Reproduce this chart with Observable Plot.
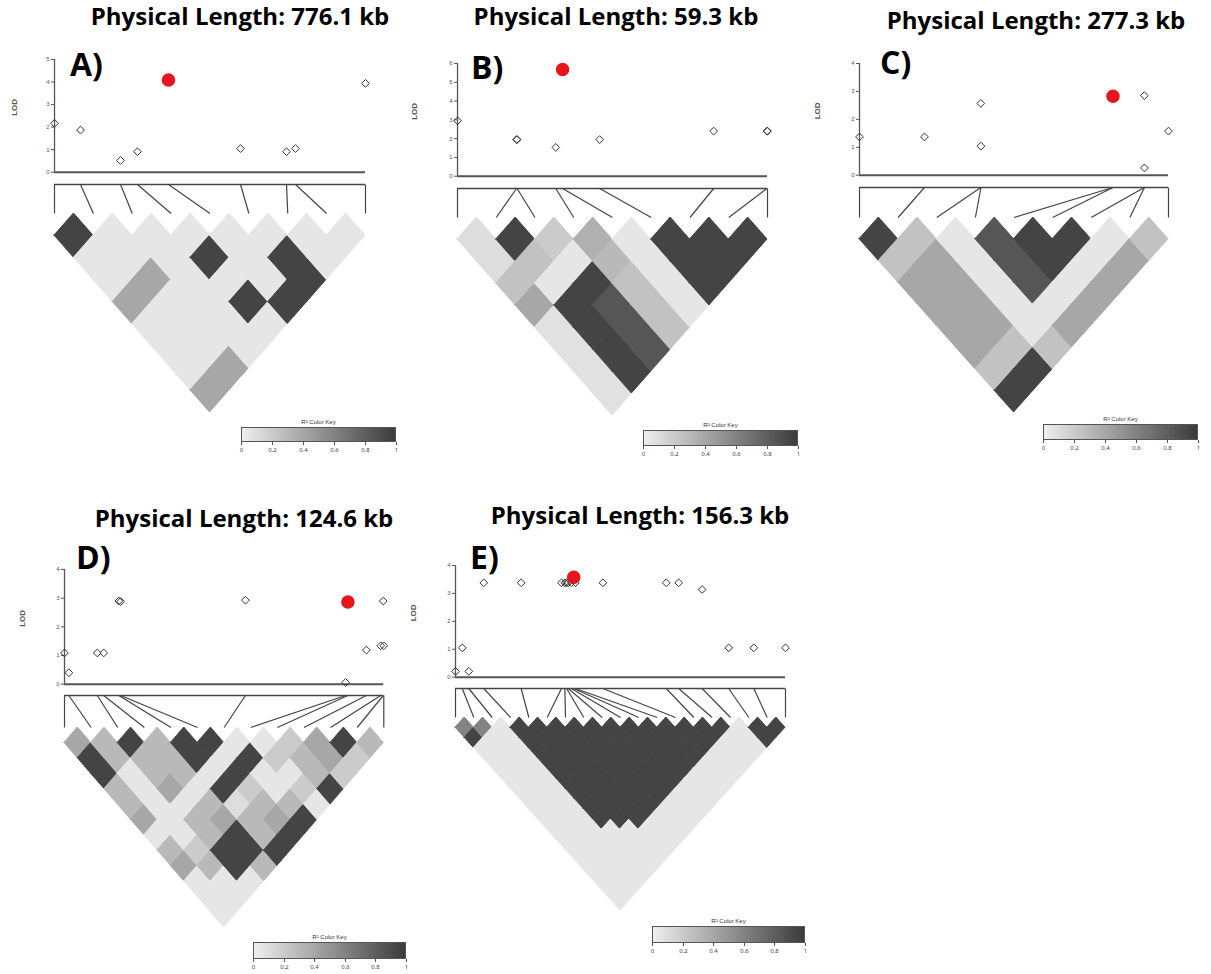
<!DOCTYPE html>
<html><head><meta charset="utf-8">
<script src="https://cdn.jsdelivr.net/npm/d3@7"></script>
<script src="https://cdn.jsdelivr.net/npm/@observablehq/plot@0.6"></script>
<style>
body{margin:0;background:#fff}
#page{position:relative;width:1211px;height:974px;overflow:hidden;background:#fff;font-family:"Liberation Sans",Arial,sans-serif}
.title{position:absolute;font-family:"Open Sans",sans-serif;font-weight:700;font-size:24px;line-height:28px;white-space:nowrap;transform:translateX(-50%);color:#000}
.tag{position:absolute;font-family:"Open Sans",sans-serif;font-weight:700;font-size:32px;line-height:36px;color:#000}
.keytitle{position:absolute;font-size:6px;line-height:7px;color:#333;white-space:nowrap;transform:translateX(-50%)}
.keybox{position:absolute;border:1px solid #555;box-sizing:border-box;pointer-events:none}
</style>
</head><body><div id="page"></div>
<script>
// ---------------- data ----------------
const titles = ["Physical Length: 776.1 kb","Physical Length: 59.3 kb","Physical Length: 277.3 kb","Physical Length: 124.6 kb","Physical Length: 156.3 kb"];
const tags = ["A)","B)","C)","D)","E)"];
const lengthsKb = [776.1, 59.3, 277.3, 124.6, 156.3];
const lodTicks4 = [0,1,2,3,4];
const lodTicks5 = [0,1,2,3,4,5];
const lodTicks6 = [0,1,2,3,4,5,6];
const keyTicks = [0,0.2,0.4,0.6,0.8,1];

// SNP physical positions (kb from first SNP) and LOD scores
const posA = [0, 64.9, 164.7, 207.0, 284.5, 464.2, 579.0, 601.4, 776.1];
const lodA = [2.17, 1.87, 0.52, 0.91, 4.09, 1.05, 0.91, 1.05, 3.94];
const posB = [0, 11.3, 11.4, 18.8, 20.1, 27.2, 49.0, 59.2, 59.3];
const lodB = [2.95, 1.95, 1.95, 1.53, 5.68, 1.95, 2.40, 2.40, 2.40];
const posC = [0, 58.3, 108.9, 109.0, 227.4, 227.5, 255.6, 255.7, 277.3];
const lodC = [1.37, 1.37, 2.57, 1.04, 2.80, 2.83, 2.85, 0.26, 1.58];
const posD = [0, 1.7, 12.8, 15.3, 21.2, 21.9, 70.6, 109.7, 110.6, 117.8, 123.4, 124.4, 124.6];
const lodD = [1.09, 0.40, 1.09, 1.09, 2.90, 2.88, 2.93, 0.06, 2.87, 1.19, 1.34, 2.90, 1.34];
const posE = [0, 3.2, 6.3, 13.4, 31.1, 50.2, 51.8, 52.6, 53.4, 54.9, 56.0, 56.8, 69.8, 99.8, 105.7, 116.8, 129.4, 141.3, 156.3];
const lodE = [0.21, 1.05, 0.21, 3.38, 3.38, 3.38, 3.38, 3.38, 3.38, 3.38, 3.58, 3.38, 3.38, 3.38, 3.38, 3.14, 1.05, 1.05, 1.05];
const leadSnp = [4, 4, 5, 8, 10];

// pairwise LD r^2, row i holds pairs (i, i+1 ... n-1)
const ldA = [
  [.95,.05,.05,.4,.05,.05,.05,.4],
  [.05,.05,.4,.05,.05,.05,.4],
  [.05,.05,.05,.05,.05,.05],
  [.05,.95,.05,.95,.05],
  [.05,.05,.05,.95],
  [.05,.95,.95],
  [.05,.05],
  [.05]
];
const ldB = [
  [.1,.1,.25,.4,.08,.08,.08,.08],
  [.95,.25,.05,.95,.95,.95,.95],
  [.2,.05,.95,.85,.85,.85],
  [.35,.3,.25,.25,.25],
  [.05,.05,.05,.05],
  [.95,.95,.95],
  [.95,.95],
  [.95]
];
const ldC = [
  [.95,.25,.4,.4,.4,.4,.25,.95],
  [.25,.4,.4,.4,.4,.25,.95],
  [.05,.05,.05,.05,.05,.25],
  [.85,.85,.85,.05,.4],
  [.95,.95,.05,.4],
  [.95,.05,.4],
  [.05,.4],
  [.25]
];
const ldD = [
  [.4,.95,.95,.3,.3,.4,.05,.3,.4,.05,.05,.05],
  [.3,.3,.05,.05,.05,.05,.05,.2,.3,.05,.05],
  [.95,.3,.3,.4,.05,.3,.3,.95,.95,.05],
  [.3,.3,.3,.05,.3,.4,.95,.95,.3],
  [.95,.95,.05,.95,.1,.3,.3,.95],
  [.95,.05,.95,.2,.3,.4,.95],
  [.05,.95,.05,.05,.3,.95],
  [.05,.2,.05,.2,.05],
  [.2,.3,.3,.95],
  [.4,.4,.2],
  [.95,.2],
  [.3]
];
const ldE = [
  [.6,.95,.05,.05,.05,.05,.05,.05,.05,.05,.05,.05,.05,.05,.05,.05,.05,.05],
  [.6,.05,.05,.05,.05,.05,.05,.05,.05,.05,.05,.05,.05,.05,.05,.05,.05],
  [.05,.05,.05,.05,.05,.05,.05,.05,.05,.05,.05,.05,.05,.05,.05,.05],
  [.95,.95,.95,.95,.95,.95,.95,.95,.95,.95,.05,.05,.05,.05,.05],
  [.95,.95,.95,.95,.95,.95,.95,.95,.95,.95,.05,.05,.05,.05],
  [.95,.95,.95,.95,.95,.95,.95,.95,.95,.95,.05,.05,.05],
  [.95,.95,.95,.95,.95,.95,.95,.95,.95,.05,.05,.05],
  [.95,.95,.95,.95,.95,.95,.95,.95,.05,.05,.05],
  [.95,.95,.95,.95,.95,.95,.95,.05,.05,.05],
  [.95,.95,.95,.95,.95,.95,.05,.05,.05],
  [.95,.95,.95,.95,.95,.05,.05,.05],
  [.95,.95,.95,.95,.05,.05,.05],
  [.95,.95,.95,.05,.05,.05],
  [.95,.95,.05,.05,.05],
  [.95,.05,.05,.05],
  [.05,.05,.05],
  [.95,.95],
  [.95]
];

// ---------------- layout (pixels) ----------------
const layout = [
  {xL:54,   xR:365,   yTop:59.3,  y0:172,   lodDx:-40, genomeY:184, endY:213, bottomY:412, key:{x:241,y:427,w:155,h:15}, title:{x:240,y:2},  tag:{x:70,y:46}},
  {xL:456.7,xR:766.7, yTop:63.3,  y0:176,   lodDx:-43, genomeY:188, endY:217, bottomY:415, key:{x:643,y:430,w:155,h:16}, title:{x:616,y:2},  tag:{x:471,y:49}},
  {xL:859.3,xR:1168.3,yTop:63.3,  y0:175,   lodDx:-42, genomeY:187, endY:217, bottomY:412, key:{x:1043,y:424,w:155,h:16},title:{x:1036,y:6}, tag:{x:880,y:44}},
  {xL:64,   xR:383.3, yTop:569.3, y0:684,   lodDx:-42, genomeY:695, endY:727, bottomY:927, key:{x:253,y:942,w:153,h:17}, title:{x:244,y:504},tag:{x:76,y:539}},
  {xL:455,  xR:785,   yTop:565,   y0:676.7, lodDx:-42, genomeY:688, endY:717, bottomY:910, key:{x:652,y:926,w:153,h:17}, title:{x:640,y:501},tag:{x:470,y:539}}
];

const panels = [
  {pos:posA, lod:lodA, ld:ldA, yMax:5, ticks:lodTicks5},
  {pos:posB, lod:lodB, ld:ldB, yMax:6, ticks:lodTicks6},
  {pos:posC, lod:lodC, ld:ldC, yMax:4, ticks:lodTicks4},
  {pos:posD, lod:lodD, ld:ldD, yMax:4, ticks:lodTicks4},
  {pos:posE, lod:lodE, ld:ldE, yMax:4, ticks:lodTicks4}
];

const C0 = "#efefef", C1 = "#3b3b3b";
const page = document.getElementById("page");
function place(el, left, top) {
  el.style.position = "absolute";
  el.style.left = left + "px";
  el.style.top = top + "px";
  page.appendChild(el);
}
function addDiv(cls, text, left, top) {
  const d = document.createElement("div");
  d.className = cls; d.textContent = text;
  d.style.left = left + "px"; d.style.top = top + "px";
  page.appendChild(d); return d;
}

function drawLod(p, len, lead, L) {
  const padL = 50, padR = 12, padT = 10, padB = 10;
  const snps = p.pos.map((kb, k) => ({kb, lod: p.lod[k], lead: k === lead}));
  const svg = Plot.plot({
    width: (L.xR - L.xL) + padL + padR,
    height: (L.y0 - L.yTop) + padT + padB,
    marginLeft: padL, marginRight: padR, marginTop: padT, marginBottom: padB,
    style: {fontFamily: "Liberation Sans, sans-serif", fontSize: "6px", color: "#555", background: "transparent", overflow: "visible"},
    x: {domain: [0, len], axis: null},
    y: {domain: [0, p.yMax], ticks: p.ticks, tickFormat: d => String(d), tickSize: 3, tickPadding: 2, label: null},
    marks: [
      Plot.ruleY([0], {stroke: "#555", strokeWidth: 2}),
      Plot.ruleX([0], {y1: () => 0, y2: () => p.yMax, stroke: "#555", strokeWidth: 1.3}),
      Plot.text(["LOD"], {text: d => d, frameAnchor: "left", dx: L.lodDx, rotate: -90, fontSize: 8, fontWeight: "bold", fill: "#555"}),
      Plot.dot(snps.filter(d => !d.lead), {x: "kb", y: "lod", symbol: "diamond2", r: 3.5, stroke: "#333", strokeWidth: 1}),
      Plot.dot(snps.filter(d => d.lead), {x: "kb", y: "lod", r: 6, fill: "#e8141c", stroke: "#e8141c"})
    ]
  });
  place(svg, L.xL - padL, L.yTop - padT);
}

function drawLd(p, len, L) {
  const n = p.pos.length;
  const hh = (L.bottomY - L.endY) / n;
  const gap = (L.endY - L.genomeY) / hh;
  const step = len / (n - 1);
  const pad = 6;
  const cells = [];
  p.ld.forEach((row, i) => row.forEach((r2, k) => {
    const j = i + k + 1, cx = (i + j) / 2 * step, cy = j - i, id = i + "-" + j;
    cells.push({id, r2, x: cx - step / 2, y1: cy, y2: cy},
               {id, r2, x: cx, y1: cy - 1, y2: cy + 1},
               {id, r2, x: cx + step / 2, y1: cy, y2: cy});
  }));
  const links = p.pos.map((kb, k) => ({kb, end: k * step}));
  const svg = Plot.plot({
    width: (L.xR - L.xL) + 2 * pad,
    height: (L.bottomY - L.genomeY) + 2 * pad,
    margin: pad,
    style: {background: "transparent", overflow: "visible"},
    x: {domain: [0, len], axis: null},
    y: {domain: [-gap, n], reverse: true, axis: null},
    color: {type: "linear", domain: [0, 1], range: [C0, C1]},
    marks: [
      Plot.area(cells, {x1: "x", y1: "y1", y2: "y2", z: "id", fill: "r2", stroke: "r2", strokeWidth: 1, strokeLinejoin: "miter"}),
      Plot.ruleY([-gap], {stroke: "#444", strokeWidth: 1.4}),
      Plot.link(links, {x1: "kb", y1: () => -gap, x2: "end", y2: () => 0, stroke: "#444", strokeWidth: 1.2})
    ]
  });
  place(svg, L.xL - pad, L.genomeY - pad);
}

function drawKey(L) {
  const k = L.key, padX = 8;
  const leg = Plot.legend({
    legend: "ramp",
    color: {type: "linear", domain: [0, 1], range: [C0, C1]},
    width: k.w + 2 * padX, height: k.h + 12,
    marginLeft: padX, marginRight: padX, marginTop: 0, marginBottom: 12,
    ticks: keyTicks, tickSize: 3, tickFormat: d => String(d), label: null
  });
  d3.select(leg).selectAll(".tick line").attr("y1", 0).attr("stroke", "#555");
  d3.select(leg).selectAll("text").style("font-size", "6px").attr("fill", "#444");
  leg.style.background = "transparent";
  place(leg, k.x - padX, k.y);
  const box = document.createElement("div");
  box.className = "keybox";
  box.style.width = k.w + "px"; box.style.height = k.h + "px";
  place(box, k.x, k.y);
  addDiv("keytitle", "R² Color Key", k.x + k.w / 2, k.y - 8);
}

panels.forEach((p, idx) => {
  const L = layout[idx];
  drawLd(p, lengthsKb[idx], L);
  drawLod(p, lengthsKb[idx], leadSnp[idx], L);
  drawKey(L);
  addDiv("title", titles[idx], L.title.x, L.title.y);
  addDiv("tag", tags[idx], L.tag.x, L.tag.y);
});
</script>
</body></html>
